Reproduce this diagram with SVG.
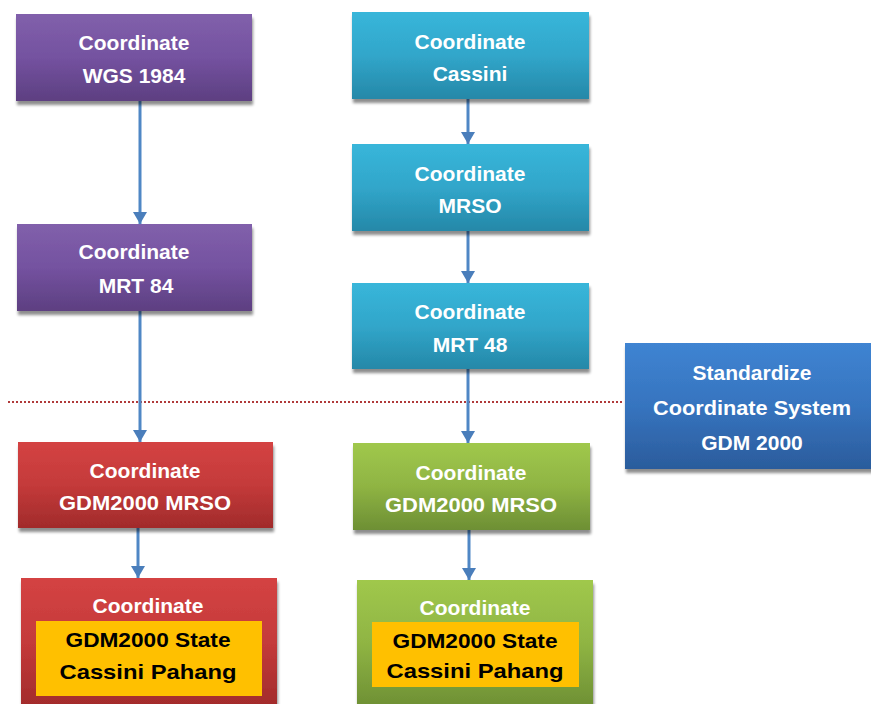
<svg xmlns="http://www.w3.org/2000/svg" width="871" height="704" viewBox="0 0 871 704">
  <defs>
    <linearGradient id="gPurple" x1="0" y1="0" x2="0" y2="1">
      <stop offset="0" stop-color="#8160ab"/>
      <stop offset="0.5" stop-color="#7452a0"/>
      <stop offset="1" stop-color="#5d3f81"/>
    </linearGradient>
    <linearGradient id="gCyan" x1="0" y1="0" x2="0" y2="1">
      <stop offset="0" stop-color="#38b6da"/>
      <stop offset="0.5" stop-color="#31a6ca"/>
      <stop offset="1" stop-color="#2588a8"/>
    </linearGradient>
    <linearGradient id="gBlue" x1="0" y1="0" x2="0" y2="1">
      <stop offset="0" stop-color="#3f84d2"/>
      <stop offset="0.5" stop-color="#3674bf"/>
      <stop offset="1" stop-color="#2b5c9c"/>
    </linearGradient>
    <linearGradient id="gRed" x1="0" y1="0" x2="0" y2="1">
      <stop offset="0" stop-color="#d44343"/>
      <stop offset="0.5" stop-color="#c43a3a"/>
      <stop offset="1" stop-color="#a12b2b"/>
    </linearGradient>
    <linearGradient id="gGreen" x1="0" y1="0" x2="0" y2="1">
      <stop offset="0" stop-color="#a0c84c"/>
      <stop offset="0.5" stop-color="#8fb443"/>
      <stop offset="1" stop-color="#6d8f34"/>
    </linearGradient>
    <filter id="shadow" x="-10%" y="-10%" width="120%" height="130%">
      <feGaussianBlur in="SourceAlpha" stdDeviation="1.5"/>
      <feOffset dx="1" dy="4" result="b"/>
      <feComponentTransfer><feFuncA type="linear" slope="0.45"/></feComponentTransfer>
      <feMerge><feMergeNode/><feMergeNode in="SourceGraphic"/></feMerge>
    </filter>
    <marker id="arrow" viewBox="0 0 12 14" refX="12" refY="7" markerWidth="12" markerHeight="14" markerUnits="userSpaceOnUse" orient="auto">
      <path d="M0,0 L12,7 L0,14 Z" fill="#4a7ebb"/>
    </marker>
  </defs>
  <style>
    .box { filter: url(#shadow); }
    .lbl { font-family: "Liberation Sans", Arial, sans-serif; font-weight: bold; font-size: 21px; fill: #ffffff; text-anchor: middle; }
    .dark { font-family: "Liberation Sans", Arial, sans-serif; font-weight: bold; font-size: 21px; fill: #000000; text-anchor: middle; }
    .conn { stroke: #4f87c5; stroke-width: 3; fill: none; marker-end: url(#arrow); }
    .sep { stroke: #b03a3a; stroke-width: 2; stroke-dasharray: 2 2; fill: none; }
  </style>

  <rect width="871" height="704" fill="#ffffff"/>

  <!-- separator line -->
  <line class="sep" x1="8" y1="402" x2="622" y2="402"/>

  <!-- connectors -->
  <g id="connectors">
    <line class="conn" x1="140" y1="101" x2="140" y2="224"/>
    <line class="conn" x1="140" y1="311" x2="140" y2="442"/>
    <line class="conn" x1="138" y1="528" x2="138" y2="578"/>
    <line class="conn" x1="468" y1="99" x2="468" y2="144"/>
    <line class="conn" x1="468" y1="231" x2="468" y2="283"/>
    <line class="conn" x1="468" y1="369" x2="468" y2="443"/>
    <line class="conn" x1="469" y1="530" x2="469" y2="580"/>
  </g>

  <!-- left column -->
  <g id="wgs1984">
    <rect class="box" x="16" y="14" width="236" height="87" fill="url(#gPurple)"/>
    <text class="lbl" x="134" y="50">Coordinate</text>
    <text class="lbl" x="134" y="83">WGS 1984</text>
  </g>
  <g id="mrt84">
    <rect class="box" x="17" y="224" width="235" height="87" fill="url(#gPurple)"/>
    <text class="lbl" x="134" y="259">Coordinate</text>
    <text class="lbl" x="136" y="293">MRT 84</text>
  </g>
  <g id="gdm2000-mrso-left">
    <rect class="box" x="18" y="442" width="255" height="86" fill="url(#gRed)"/>
    <text class="lbl" x="145" y="478">Coordinate</text>
    <text class="lbl" x="145" y="510" textLength="172" lengthAdjust="spacingAndGlyphs">GDM2000 MRSO</text>
  </g>
  <g id="cassini-pahang-left">
    <rect class="box" x="21" y="578" width="256" height="130" fill="url(#gRed)"/>
    <text class="lbl" x="148" y="613">Coordinate</text>
    <rect x="36" y="621" width="226" height="75" fill="#ffc000"/>
    <text class="dark" x="148" y="647" textLength="165" lengthAdjust="spacingAndGlyphs">GDM2000 State</text>
    <text class="dark" x="148" y="679" font-size="23" textLength="177" lengthAdjust="spacingAndGlyphs">Cassini Pahang</text>
  </g>

  <!-- middle column -->
  <g id="cassini">
    <rect class="box" x="352" y="12" width="237" height="87" fill="url(#gCyan)"/>
    <text class="lbl" x="470" y="49">Coordinate</text>
    <text class="lbl" x="470" y="81">Cassini</text>
  </g>
  <g id="mrso">
    <rect class="box" x="352" y="144" width="237" height="87" fill="url(#gCyan)"/>
    <text class="lbl" x="470" y="181">Coordinate</text>
    <text class="lbl" x="470" y="213">MRSO</text>
  </g>
  <g id="mrt48">
    <rect class="box" x="352" y="283" width="237" height="86" fill="url(#gCyan)"/>
    <text class="lbl" x="470" y="319">Coordinate</text>
    <text class="lbl" x="470" y="352">MRT 48</text>
  </g>
  <g id="gdm2000-mrso-right">
    <rect class="box" x="353" y="443" width="237" height="87" fill="url(#gGreen)"/>
    <text class="lbl" x="471" y="480">Coordinate</text>
    <text class="lbl" x="471" y="512" textLength="172" lengthAdjust="spacingAndGlyphs">GDM2000 MRSO</text>
  </g>
  <g id="cassini-pahang-right">
    <rect class="box" x="357" y="580" width="236" height="128" fill="url(#gGreen)"/>
    <text class="lbl" x="475" y="615">Coordinate</text>
    <rect x="372" y="622" width="207" height="65" fill="#ffc000"/>
    <text class="dark" x="475" y="648" textLength="165" lengthAdjust="spacingAndGlyphs">GDM2000 State</text>
    <text class="dark" x="475" y="678" font-size="23" textLength="177" lengthAdjust="spacingAndGlyphs">Cassini Pahang</text>
  </g>

  <!-- standard system -->
  <g id="gdm2000">
    <rect class="box" x="625" y="343" width="250" height="126" fill="url(#gBlue)"/>
    <text class="lbl" x="752" y="380">Standardize</text>
    <text class="lbl" x="752" y="415" textLength="198" lengthAdjust="spacingAndGlyphs">Coordinate System</text>
    <text class="lbl" x="752" y="450">GDM 2000</text>
  </g>
</svg>
